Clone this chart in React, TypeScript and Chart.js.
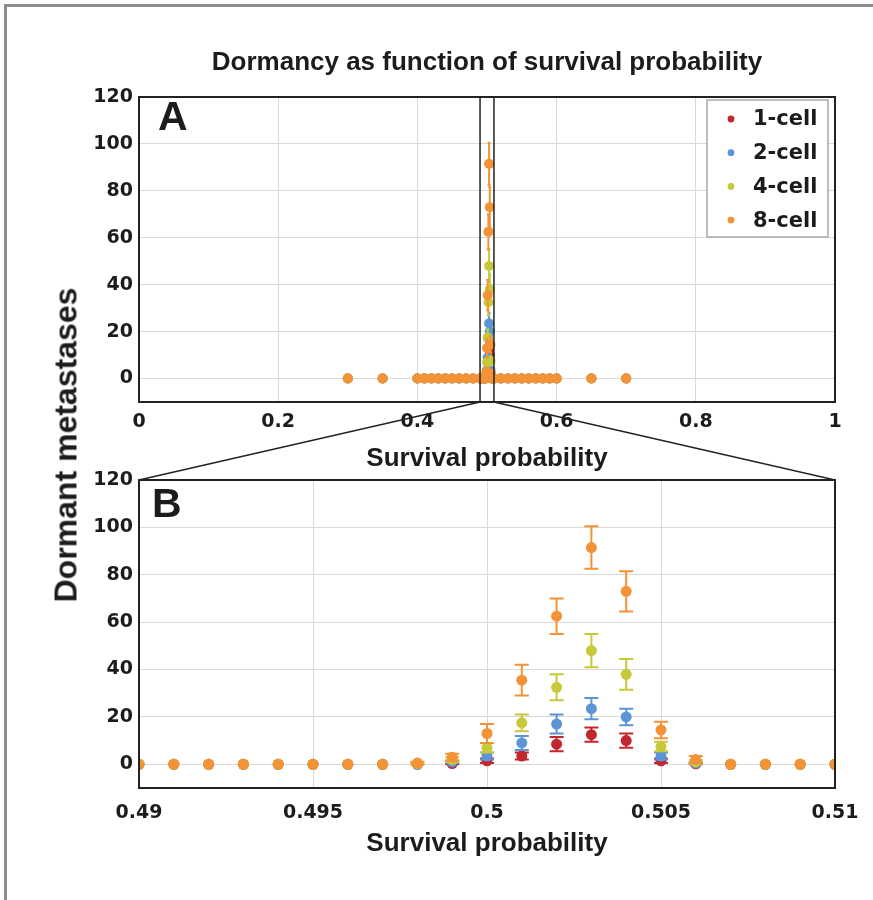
import React, { useEffect, useRef } from 'react';
import { Chart, registerables } from 'chart.js';
Chart.register(...registerables);

// ---------- data ----------
const survival = [0.3, 0.35, 0.4, 0.41, 0.42, 0.43, 0.44, 0.45, 0.46, 0.47, 0.48, 0.49, 0.491, 0.492, 0.493, 0.494, 0.495, 0.496, 0.497, 0.498, 0.499, 0.5, 0.501, 0.502, 0.503, 0.504, 0.505, 0.506, 0.507, 0.508, 0.509, 0.51, 0.52, 0.53, 0.54, 0.55, 0.56, 0.57, 0.58, 0.59, 0.6, 0.65, 0.7];

const cell1 = [0, 0, 0, 0, 0, 0, 0, 0, 0, 0, 0, 0, 0, 0, 0, 0, 0, 0, 0, 0, 0.3, 1.5, 3.5, 8.5, 12.5, 10, 1.5, 0.2, 0, 0, 0, 0, 0, 0, 0, 0, 0, 0, 0, 0, 0, 0, 0];
const cell1Err = [0, 0, 0, 0, 0, 0, 0, 0, 0, 0, 0, 0, 0, 0, 0, 0, 0, 0, 0, 0, 0.3, 1, 1.5, 3, 3, 3, 1, 0.2, 0, 0, 0, 0, 0, 0, 0, 0, 0, 0, 0, 0, 0, 0, 0];
const cell2 = [0, 0, 0, 0, 0, 0, 0, 0, 0, 0, 0, 0, 0, 0, 0, 0, 0, 0, 0, 0, 1, 3.5, 9, 17, 23.5, 20, 3.5, 0.5, 0, 0, 0, 0, 0, 0, 0, 0, 0, 0, 0, 0, 0, 0, 0];
const cell2Err = [0, 0, 0, 0, 0, 0, 0, 0, 0, 0, 0, 0, 0, 0, 0, 0, 0, 0, 0, 0, 0.6, 1.5, 3, 4, 4.5, 3.5, 1.5, 0.4, 0, 0, 0, 0, 0, 0, 0, 0, 0, 0, 0, 0, 0, 0, 0];
const cell4 = [0, 0, 0, 0, 0, 0, 0, 0, 0, 0, 0, 0, 0, 0, 0, 0, 0, 0, 0, 0.3, 2, 7, 17.5, 32.5, 48, 38, 7.5, 1, 0, 0, 0, 0, 0, 0, 0, 0, 0, 0, 0, 0, 0, 0, 0];
const cell4Err = [0, 0, 0, 0, 0, 0, 0, 0, 0, 0, 0, 0, 0, 0, 0, 0, 0, 0, 0, 0.3, 1, 2, 3.5, 5.5, 7, 6.5, 2, 0.8, 0, 0, 0, 0, 0, 0, 0, 0, 0, 0, 0, 0, 0, 0, 0];
const cell8 = [0, 0, 0, 0, 0, 0, 0, 0, 0, 0, 0, 0, 0, 0, 0, 0, 0, 0, 0, 0.5, 3, 13, 35.5, 62.5, 91.5, 73, 14.5, 2, 0, 0, 0, 0, 0, 0, 0, 0, 0, 0, 0, 0, 0, 0, 0];
const cell8Err = [0, 0, 0, 0, 0, 0, 0, 0, 0, 0, 0, 0, 0, 0, 0, 0, 0, 0, 0, 0.6, 1.5, 4, 6.5, 7.5, 9, 8.5, 3.5, 1.5, 0, 0, 0, 0, 0, 0, 0, 0, 0, 0, 0, 0, 0, 0, 0];

const seriesNames = ['1-cell', '2-cell', '4-cell', '8-cell'];
const seriesColors = ['#c4262e', '#5b95d6', '#c6c93a', '#f49236'];
const seriesValues = [cell1, cell2, cell4, cell8];
const seriesErrors = [cell1Err, cell2Err, cell4Err, cell8Err];

const yTicks = [0, 20, 40, 60, 80, 100, 120];
const yLabels = ['0', '20', '40', '60', '80', '100', '120'];
const xTicksA = [0, 0.2, 0.4, 0.6, 0.8, 1];
const xLabelsA = ['0', '0.2', '0.4', '0.6', '0.8', '1'];
const xTicksB = [0.49, 0.495, 0.5, 0.505, 0.51];
const xLabelsB = ['0.49', '0.495', '0.5', '0.505', '0.51'];

const zoomRange = [0.49, 0.51];

const TITLE = 'Dormancy as function of survival probability';
const X_TITLE = 'Survival probability';
const Y_TITLE = 'Dormant metastases';

// ---------- styling ----------
const TEXT = '#1c1c1c';
const GRID = '#d9d9d9';
const TICK_FONT = { family: 'DejaVu Sans', weight: 'bold' as const, size: 19 };
const AXIS_FONT = { family: 'Liberation Sans', weight: 'bold' as const, size: 26 };

function makeDatasets(radius: number) {
  return seriesNames.map((name, s) => ({
    label: name,
    data: survival.map((x, i) => ({ x, y: seriesValues[s][i] })),
    errors: seriesErrors[s],
    backgroundColor: seriesColors[s],
    borderColor: seriesColors[s],
    pointRadius: radius,
    pointBorderWidth: 0,
    pointHoverRadius: radius,
    showLine: false,
    clip: 0,
    order: 4 - s,
  }));
}

function errorBarPlugin(capHalf: number, lw: number) {
  return {
    id: 'errorBars',
    beforeDatasetDraw(chart: any, args: any) {
      const ds = chart.data.datasets[args.index];
      const errs = ds.errors;
      if (!errs) return;
      const { ctx, chartArea, scales } = chart;
      ctx.save();
      ctx.beginPath();
      ctx.rect(chartArea.left, chartArea.top, chartArea.right - chartArea.left, chartArea.bottom - chartArea.top);
      ctx.clip();
      ctx.strokeStyle = ds.backgroundColor;
      ctx.lineWidth = lw;
      ds.data.forEach((p: any, i: number) => {
        const e = errs[i];
        if (!e) return;
        const x = scales.x.getPixelForValue(p.x);
        const y1 = scales.y.getPixelForValue(p.y + e);
        const y2 = scales.y.getPixelForValue(p.y - e);
        ctx.beginPath();
        ctx.moveTo(x, y1);
        ctx.lineTo(x, y2);
        if (capHalf > 0) {
          ctx.moveTo(x - capHalf, y1);
          ctx.lineTo(x + capHalf, y1);
          ctx.moveTo(x - capHalf, y2);
          ctx.lineTo(x + capHalf, y2);
        }
        ctx.stroke();
      });
      ctx.restore();
    },
  };
}

const boxPlugin = {
  id: 'frameBox',
  afterDraw(chart: any) {
    const { ctx, chartArea } = chart;
    ctx.save();
    ctx.strokeStyle = '#222';
    ctx.lineWidth = 2;
    ctx.strokeRect(chartArea.left, chartArea.top, chartArea.right - chartArea.left, chartArea.bottom - chartArea.top);
    ctx.restore();
  },
};

function panelLetter(letter: string, dx: number, dy: number) {
  return {
    id: 'panelLetter',
    afterDraw(chart: any) {
      const { ctx, chartArea } = chart;
      ctx.save();
      ctx.fillStyle = TEXT;
      ctx.font = 'bold 41px "Liberation Sans"';
      ctx.textAlign = 'left';
      ctx.textBaseline = 'alphabetic';
      ctx.fillText(letter, chartArea.left + dx, chartArea.top + dy);
      ctx.restore();
    },
  };
}

const panelAExtras = {
  id: 'panelAExtras',
  afterDatasetsDraw(chart: any) {
    const { ctx, chartArea, scales } = chart;
    ctx.save();
    ctx.strokeStyle = '#222';
    ctx.lineWidth = 1.5;
    zoomRange.forEach((v) => {
      const x = scales.x.getPixelForValue(v);
      ctx.beginPath();
      ctx.moveTo(x, chartArea.top);
      ctx.lineTo(x, chartArea.bottom);
      ctx.stroke();
    });
    ctx.restore();
  },
  afterDraw(chart: any) {
    const { ctx, chartArea, scales, height } = chart;
    ctx.save();
    // zoom connector lines
    ctx.strokeStyle = '#222';
    ctx.lineWidth = 1.5;
    const xl = scales.x.getPixelForValue(zoomRange[0]);
    const xr = scales.x.getPixelForValue(zoomRange[1]);
    ctx.beginPath();
    ctx.moveTo(xl, chartArea.bottom);
    ctx.lineTo(chartArea.left, height);
    ctx.moveTo(xr, chartArea.bottom);
    ctx.lineTo(chartArea.right, height);
    ctx.stroke();
    // title
    ctx.fillStyle = TEXT;
    ctx.font = 'bold 26px "Liberation Sans"';
    ctx.textAlign = 'center';
    ctx.textBaseline = 'middle';
    ctx.fillText(TITLE, (chartArea.left + chartArea.right) / 2, chartArea.top - 34);
    // legend
    const bw = 121, bh = 137;
    const bx = chartArea.right - 7 - bw;
    const by = chartArea.top + 3;
    ctx.fillStyle = '#fff';
    ctx.fillRect(bx, by, bw, bh);
    ctx.strokeStyle = '#a8a8a8';
    ctx.lineWidth = 1.5;
    ctx.strokeRect(bx, by, bw, bh);
    ctx.font = 'bold 21px "DejaVu Sans"';
    ctx.textAlign = 'left';
    ctx.textBaseline = 'middle';
    seriesNames.forEach((name, i) => {
      const cy = by + 19 + i * 33.7;
      ctx.fillStyle = seriesColors[i];
      ctx.beginPath();
      ctx.arc(bx + 24, cy, 3.4, 0, Math.PI * 2);
      ctx.fill();
      ctx.fillStyle = TEXT;
      ctx.fillText(name, bx + 46, cy + 1);
    });
    ctx.restore();
  },
};

function makeConfig(opts: {
  xMin: number; xMax: number; xTicks: number[]; xLabels: string[];
  padTop: number; xAxisHeight: number; tickPad: number; titlePad: number;
  radius: number; plugins: any[];
}) {
  return {
    type: 'scatter' as const,
    data: { datasets: makeDatasets(opts.radius) as any },
    options: {
      animation: false as const,
      responsive: false,
      events: [] as any,
      layout: { padding: { left: 0, right: 38, top: opts.padTop, bottom: 0 } },
      plugins: { legend: { display: false }, title: { display: false }, tooltip: { enabled: false } },
      scales: {
        x: {
          type: 'linear' as const,
          min: opts.xMin,
          max: opts.xMax,
          afterBuildTicks: (s: any) => { s.ticks = opts.xTicks.map((v) => ({ value: v })); },
          afterFit: (s: any) => { s.height = opts.xAxisHeight; },
          grid: { color: GRID, lineWidth: 1, drawTicks: false },
          border: { display: false },
          ticks: {
            padding: opts.tickPad, font: TICK_FONT, color: TEXT, maxRotation: 0, autoSkip: false,
            callback: (_v: any, i: number) => opts.xLabels[i],
          },
          title: { display: true, text: X_TITLE, font: AXIS_FONT, color: TEXT, padding: { top: 0, bottom: opts.titlePad } },
        },
        y: {
          type: 'linear' as const,
          min: -10,
          max: 120,
          afterBuildTicks: (s: any) => { s.ticks = yTicks.map((v) => ({ value: v })); },
          afterFit: (s: any) => { s.width = 139; },
          grid: { color: GRID, lineWidth: 1, drawTicks: false },
          border: { display: false },
          ticks: { padding: 6, font: TICK_FONT, color: TEXT, autoSkip: false, callback: (_v: any, i: number) => yLabels[i] },
        },
      },
    },
    plugins: opts.plugins,
  };
}

export default function App() {
  const refA = useRef<HTMLCanvasElement>(null);
  const refB = useRef<HTMLCanvasElement>(null);

  useEffect(() => {
    const a = new Chart(refA.current!, makeConfig({
      xMin: 0, xMax: 1, xTicks: xTicksA, xLabels: xLabelsA,
      padTop: 97, xAxisHeight: 78, tickPad: 9, titlePad: 6, radius: 5,
      plugins: [errorBarPlugin(1.5, 2), panelAExtras, boxPlugin, panelLetter('A', 19, 33)],
    }) as any);
    const b = new Chart(refB.current!, makeConfig({
      xMin: zoomRange[0], xMax: zoomRange[1], xTicks: xTicksB, xLabels: xLabelsB,
      padTop: 20, xAxisHeight: 112, tickPad: 14, titlePad: 41, radius: 5.5,
      plugins: [errorBarPlugin(7, 2), boxPlugin, panelLetter('B', 13, 37)],
    }) as any);
    return () => { a.destroy(); b.destroy(); };
  }, []);

  return (
    <div style={{ position: 'absolute', left: 0, top: 0, width: 873, height: 900, background: '#fff', overflow: 'hidden' }}>
      <div style={{ position: 'absolute', left: 4, top: 4, width: 880, height: 900, borderTop: '3px solid #8e8e8e', borderLeft: '3px solid #8e8e8e' }} />
      <canvas ref={refA} width={873} height={480} style={{ position: 'absolute', left: 0, top: 0, width: 873, height: 480 }} />
      <canvas ref={refB} width={873} height={440} style={{ position: 'absolute', left: 0, top: 460, width: 873, height: 440 }} />
      <div style={{
        position: 'absolute', left: 66, top: 445, transform: 'translate(-50%, -50%) rotate(-90deg)',
        fontFamily: '"Liberation Sans", Arial, sans-serif', fontWeight: 'bold', fontSize: 32, color: TEXT, whiteSpace: 'nowrap',
      }}>{Y_TITLE}</div>
    </div>
  );
}
